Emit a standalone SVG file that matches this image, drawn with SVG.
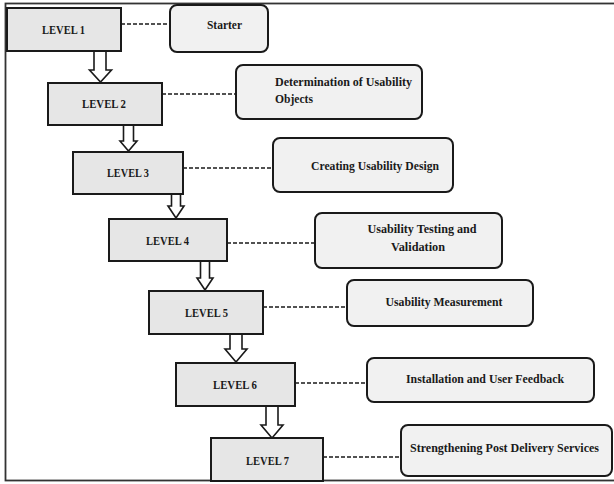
<svg xmlns="http://www.w3.org/2000/svg" width="614" height="484" viewBox="0 0 614 484">
<style>
.lvl{fill:#e6e6e6;stroke:#1a1a1a;stroke-width:2}
.desc{fill:#f1f1f1;stroke:#1a1a1a;stroke-width:2}
.t{font-family:"Liberation Serif","DejaVu Serif",serif;font-weight:bold;font-size:12px;fill:#1a1a1a}
.m{text-anchor:middle}
.dash{stroke:#1a1a1a;stroke-width:1.6;stroke-dasharray:4 2;fill:none}
.arr{fill:#ffffff;stroke:#1a1a1a;stroke-width:1.6;stroke-linejoin:miter}
</style>
<rect x="0" y="0" width="614" height="484" fill="#ffffff"/>
<rect x="5.5" y="3.5" width="620" height="477" fill="none" stroke="#333333" stroke-width="1.8"/>
<g id="connectors">
<line class="dash" x1="121" y1="24" x2="170" y2="24"/>
<line class="dash" x1="162" y1="94" x2="236" y2="94"/>
<line class="dash" x1="183" y1="168" x2="273" y2="168"/>
<line class="dash" x1="227" y1="243" x2="315" y2="243"/>
<line class="dash" x1="263" y1="307" x2="347" y2="307"/>
<line class="dash" x1="295" y1="383" x2="367" y2="383"/>
<line class="dash" x1="323" y1="457" x2="401" y2="457"/>
<path class="arr" d="M94,51 V70 H89.5 L100.5,82 L111.5,70 H106 V51"/>
<path class="arr" d="M123.5,125 V141 H120 L128.5,151 L137,141 H133.5 V125"/>
<path class="arr" d="M171.5,194 V206 H168 L176,218 L184,206 H180.5 V194"/>
<path class="arr" d="M200.5,261 V278 H197 L205,290 L213,278 H209.5 V261"/>
<path class="arr" d="M230,334 V349 H225 L236,362 L247,349 H242 V334"/>
<path class="arr" d="M266,406 V425 H261 L272,438 L283,425 H278 V406"/>
</g>
<g id="level1"><rect class="lvl" x="7" y="8" width="114" height="43"/><text class="t m" x="63.5" y="34" textLength="43" lengthAdjust="spacingAndGlyphs">LEVEL 1</text></g>
<g id="level2"><rect class="lvl" x="48" y="83" width="114" height="42"/><text class="t m" x="104" y="108" textLength="44" lengthAdjust="spacingAndGlyphs">LEVEL 2</text></g>
<g id="level3"><rect class="lvl" x="73" y="152" width="110" height="42"/><text class="t m" x="128" y="177" textLength="42" lengthAdjust="spacingAndGlyphs">LEVEL 3</text></g>
<g id="level4"><rect class="lvl" x="109" y="219" width="118" height="42"/><text class="t m" x="167.5" y="245" textLength="43" lengthAdjust="spacingAndGlyphs">LEVEL 4</text></g>
<g id="level5"><rect class="lvl" x="149" y="291" width="114" height="43"/><text class="t m" x="206.5" y="317" textLength="43" lengthAdjust="spacingAndGlyphs">LEVEL 5</text></g>
<g id="level6"><rect class="lvl" x="176" y="363" width="119" height="43"/><text class="t m" x="235" y="389" textLength="44" lengthAdjust="spacingAndGlyphs">LEVEL 6</text></g>
<g id="level7"><rect class="lvl" x="211" y="438" width="112" height="43"/><text class="t m" x="267.5" y="465" textLength="43" lengthAdjust="spacingAndGlyphs">LEVEL 7</text></g>
<g id="starter"><rect class="desc" x="170" y="5" width="98" height="47" rx="7"/><text class="t m" x="224.5" y="29" textLength="35" lengthAdjust="spacingAndGlyphs">Starter</text></g>
<g id="determination"><rect class="desc" x="236" y="65" width="186" height="54" rx="7"/><text class="t" x="275" y="86" textLength="137" lengthAdjust="spacingAndGlyphs">Determination of Usability</text><text class="t" x="275" y="103" textLength="38" lengthAdjust="spacingAndGlyphs">Objects</text></g>
<g id="creating"><rect class="desc" x="273" y="138" width="180" height="54" rx="7"/><text class="t" x="311" y="170" textLength="128" lengthAdjust="spacingAndGlyphs">Creating Usability Design</text></g>
<g id="testing"><rect class="desc" x="315" y="213" width="187" height="55" rx="7"/><text class="t m" x="422" y="233" textLength="109" lengthAdjust="spacingAndGlyphs">Usability Testing and</text><text class="t m" x="418" y="251" textLength="54" lengthAdjust="spacingAndGlyphs">Validation</text></g>
<g id="measurement"><rect class="desc" x="347" y="280" width="186" height="46" rx="7"/><text class="t m" x="444" y="306" textLength="117" lengthAdjust="spacingAndGlyphs">Usability Measurement</text></g>
<g id="installation"><rect class="desc" x="367" y="358" width="227" height="44" rx="7"/><text class="t m" x="485" y="383" textLength="158" lengthAdjust="spacingAndGlyphs">Installation and User Feedback</text></g>
<g id="strengthening"><rect class="desc" x="401" y="425" width="211" height="51" rx="7"/><text class="t m" x="504.5" y="452" textLength="189" lengthAdjust="spacingAndGlyphs">Strengthening Post Delivery Services</text></g>
</svg>
